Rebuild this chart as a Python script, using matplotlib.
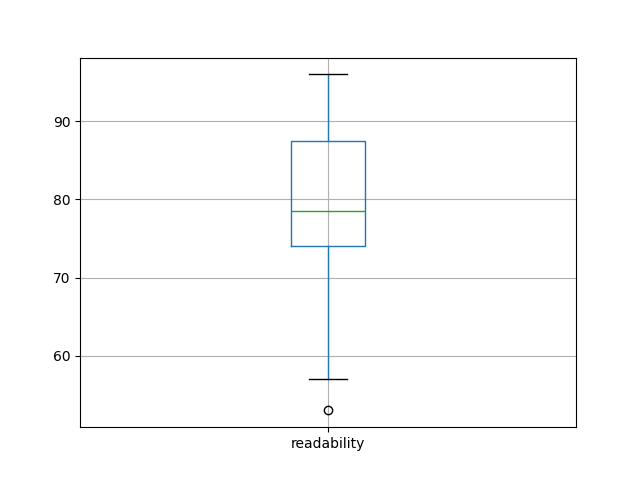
import matplotlib
matplotlib.use("Agg")
import matplotlib.pyplot as plt

labels = ["readability"]
whislo = [57.0]
q1 = [74.0]
med = [78.5]
q3 = [87.5]
whishi = [96.0]
fliers = [[53.0]]

stats = []
for i, lab in enumerate(labels):
    stats.append(dict(label=lab, whislo=whislo[i], q1=q1[i], med=med[i],
                      q3=q3[i], whishi=whishi[i], fliers=fliers[i]))

fig, ax = plt.subplots(figsize=(6.4, 4.8), dpi=100)
ax.bxp(stats,
       boxprops=dict(color="C0"),
       whiskerprops=dict(color="C0"),
       medianprops=dict(color="C2"),
       capprops=dict(color="k"),
       flierprops=dict(marker="o", markeredgecolor="k", markerfacecolor="none"))
ax.grid(True)
fig.savefig("out.png")
